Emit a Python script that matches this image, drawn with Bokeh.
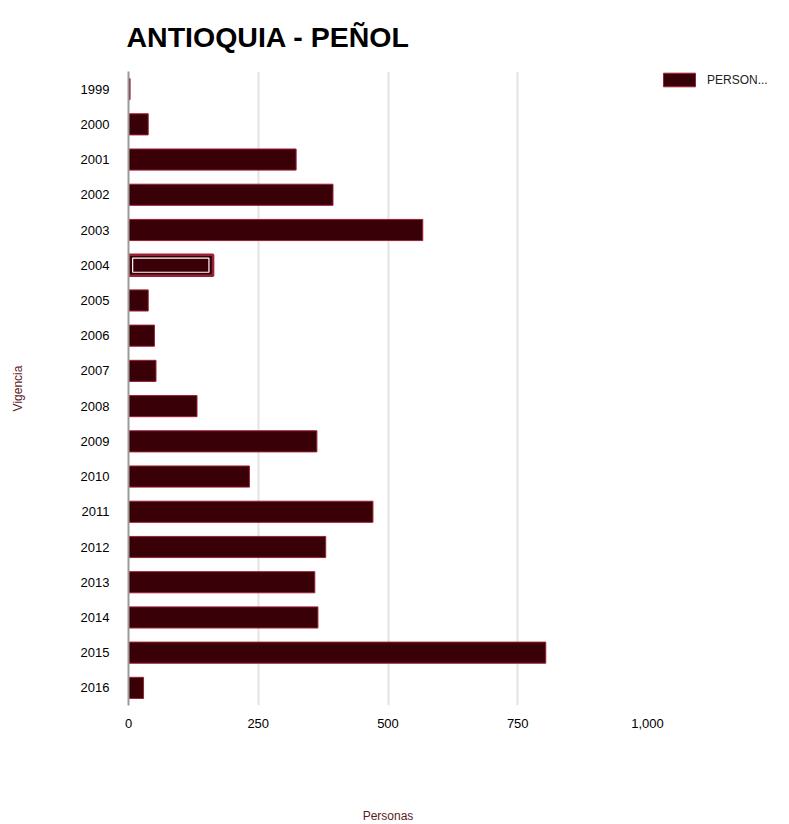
from bokeh.plotting import figure
from bokeh.models import ColumnDataSource, FactorRange, Range1d, Legend, LegendItem, NumeralTickFormatter, FixedTicker
from bokeh.embed import file_html
from bokeh.resources import INLINE

years = ["1999", "2000", "2001", "2002", "2003", "2004", "2005", "2006", "2007",
         "2008", "2009", "2010", "2011", "2012", "2013", "2014", "2015", "2016"]
personas = [3, 38, 323, 394, 567, 163, 38, 50, 53, 132, 363, 233, 471, 380, 359, 365, 804, 29]
highlight_year = "2004"
x_ticks = [0, 250, 500, 750, 1000]

FILL = "#3a0008"
LINE = "#9a2035"
LABEL_COL = "#5c1a24"
FONT = "Liberation Sans"

src = ColumnDataSource(dict(y=years, v=personas))
hi_idx = years.index(highlight_year)
hi_src = ColumnDataSource(dict(y=[years[hi_idx]], v=[personas[hi_idx]],
                               l=[8], r=[personas[hi_idx] - 8]))

p = figure(y_range=FactorRange(*reversed(years)), x_range=Range1d(0, 1000),
           frame_width=519, frame_height=634,
           min_border_left=128, min_border_right=130, min_border_top=70, min_border_bottom=117,
           output_backend="svg", toolbar_location=None, title="ANTIOQUIA - PEÑOL")

r = p.hbar(y="y", right="v", left=0, height=0.6, source=src,
           fill_color=FILL, line_color=LINE, line_width=1)
p.hbar(y="y", right="v", left=0, height=0.6, source=hi_src,
       fill_color=FILL, line_color=LINE, line_width=2.5)
p.hbar(y="y", right="r", left="l", height=0.4, source=hi_src,
       fill_color=None, line_color="white", line_width=1.2)

p.title.text_font = FONT
p.title.text_font_size = "28.5px"
p.title.text_font_style = "bold"
p.title.text_color = "#000000"
p.title.align = "left"
p.title.offset = -2
p.title.standoff = 37

p.xgrid.grid_line_color = "#e3e3e3"
p.xgrid.grid_line_width = 2
p.ygrid.grid_line_color = None
p.xaxis.ticker = FixedTicker(ticks=x_ticks)
p.xaxis.formatter = NumeralTickFormatter(format="0,0")
p.xaxis.axis_line_color = None
p.xaxis.major_tick_line_color = None
p.xaxis.minor_tick_line_color = None
p.xaxis.major_label_standoff = 7
p.xaxis.major_label_text_font = FONT
p.xaxis.major_label_text_font_size = "13px"
p.xaxis.major_label_text_color = "#000000"
p.xaxis.axis_label = "Personas"
p.xaxis.axis_label_text_font = FONT
p.xaxis.axis_label_text_font_size = "12px"
p.xaxis.axis_label_text_font_style = "normal"
p.xaxis.axis_label_text_color = LABEL_COL
p.xaxis.axis_label_standoff = 78

p.yaxis.axis_line_color = "#9a9a9a"
p.yaxis.axis_line_width = 2
p.yaxis.major_tick_line_color = None
p.yaxis.minor_tick_line_color = None
p.yaxis.major_label_standoff = 13
p.yaxis.major_label_text_font = FONT
p.yaxis.major_label_text_font_size = "13px"
p.yaxis.major_label_text_color = "#000000"
p.yaxis.axis_label = "Vigencia"
p.yaxis.axis_label_text_font = FONT
p.yaxis.axis_label_text_font_size = "12px"
p.yaxis.axis_label_text_font_style = "normal"
p.yaxis.axis_label_text_color = LABEL_COL
p.yaxis.axis_label_standoff = 53

p.outline_line_color = None

legend = Legend(items=[LegendItem(label="PERSON...", renderers=[r])], location=(12, 617),
                glyph_width=40, glyph_height=17, label_text_font=FONT, label_text_font_size="12px",
                label_text_color="#222222", border_line_color=None, background_fill_alpha=0,
                padding=0, margin=0, spacing=0, label_standoff=8)
p.add_layout(legend, "right")

open("out.html", "w").write(file_html(p, INLINE))
